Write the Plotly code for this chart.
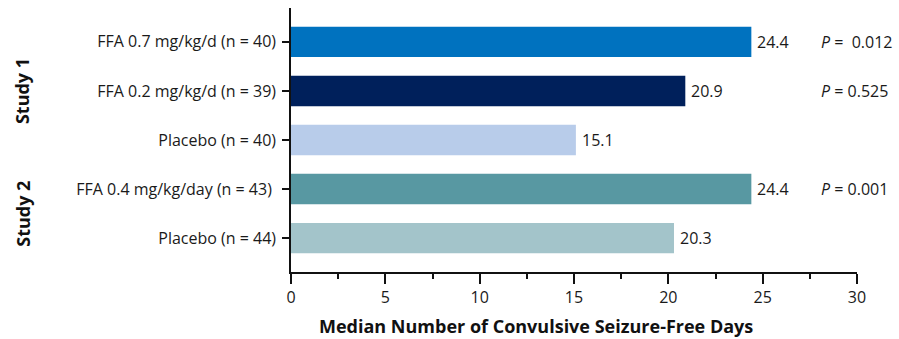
import plotly.graph_objects as go

# Treatment arms, top to bottom
arms = [
    "FFA 0.7 mg/kg/d (n = 40)",
    "FFA 0.2 mg/kg/d (n = 39)",
    "Placebo (n = 40)",
    "FFA 0.4 mg/kg/day (n = 43)\u00a0",
    "Placebo (n = 44)",
]
median_days = [24.4, 20.9, 15.1, 24.4, 20.3]
bar_colors = ["#0072BF", "#00205B", "#B8CCEA", "#5898A2", "#A3C4CA"]

# P-values versus placebo (None where no comparison is shown)
p_values = ["0.012", "0.525", None, "0.001", None]
p_prefix = ["<i>P</i> =\u00a0 ", "<i>P</i> = ", None, "<i>P</i> = ", None]

study_labels = ["Study 1", "Study 2"]
study_rows = [[0, 1, 2], [3, 4]]

x_ticks = [0, 5, 10, 15, 20, 25, 30]
x_title = "Median Number of Convulsive Seizure-Free Days"

FONT = "Open Sans"
TXT = "#1a1a1a"
FS = 16

fig = go.Figure()
fig.add_trace(go.Bar(
    y=list(range(len(arms))),
    x=median_days,
    orientation="h",
    marker=dict(color=bar_colors, line=dict(width=0)),
    width=0.62,
    hoverinfo="skip",
))

annotations = []
# value labels just past each bar end
for i, v in enumerate(median_days):
    annotations.append(dict(
        x=v, y=i, xref="x", yref="y", xanchor="left", yanchor="middle",
        xshift=4, text=f"{v:.1f}", showarrow=False,
        font=dict(family=FONT, size=FS, color=TXT),
    ))

for i, (pre, p) in enumerate(zip(p_prefix, p_values)):
    if p is None:
        continue
    annotations.append(dict(
        x=28.0, y=i, xref="x", yref="y", xanchor="left", yanchor="middle",
        text=pre + p, showarrow=False,
        font=dict(family=FONT, size=FS, color=TXT),
    ))

for label, rows in zip(study_labels, study_rows):
    annotations.append(dict(
        x=-0.475, y=sum(rows) / len(rows), xref="paper", yref="y",
        xanchor="center", yanchor="middle", textangle=-90,
        text=f"<b>{label}</b>", showarrow=False,
        font=dict(family=FONT, size=18, color="#111111"),
    ))

annotations.append(dict(
    x=0.433, y=-0.205, xref="paper", yref="paper",
    xanchor="center", yanchor="middle",
    text=f"<b>{x_title}</b>", showarrow=False,
    font=dict(family=FONT, size=18, color="#111111"),
))

fig.update_layout(
    width=899, height=339,
    margin=dict(l=291, r=42, t=8, b=67),
    paper_bgcolor="white", plot_bgcolor="white",
    showlegend=False,
    annotations=annotations,
    xaxis=dict(
        range=[0, 30], tickvals=x_ticks, ticktext=[str(t) for t in x_ticks],
        showline=True, linecolor="#111111", linewidth=1.5,
        ticks="outside", ticklen=10, tickwidth=1.5, tickcolor="#111111",
        minor=dict(dtick=2.5, ticks="outside", ticklen=5, tickwidth=1.5, tickcolor="#111111"),
        showgrid=False, zeroline=False,
        tickfont=dict(family=FONT, size=FS, color=TXT),
    ),
    yaxis=dict(
        range=[4.69, -0.69], tickvals=list(range(len(arms))), ticktext=arms,
        showline=True, linecolor="#111111", linewidth=1.5,
        ticks="outside", ticklen=7, tickwidth=1.5, tickcolor="#111111",
        ticklabelstandoff=3,
        showgrid=False, zeroline=False,
        tickfont=dict(family=FONT, size=FS, color=TXT),
    ),
)

fig.write_html("out.html")
